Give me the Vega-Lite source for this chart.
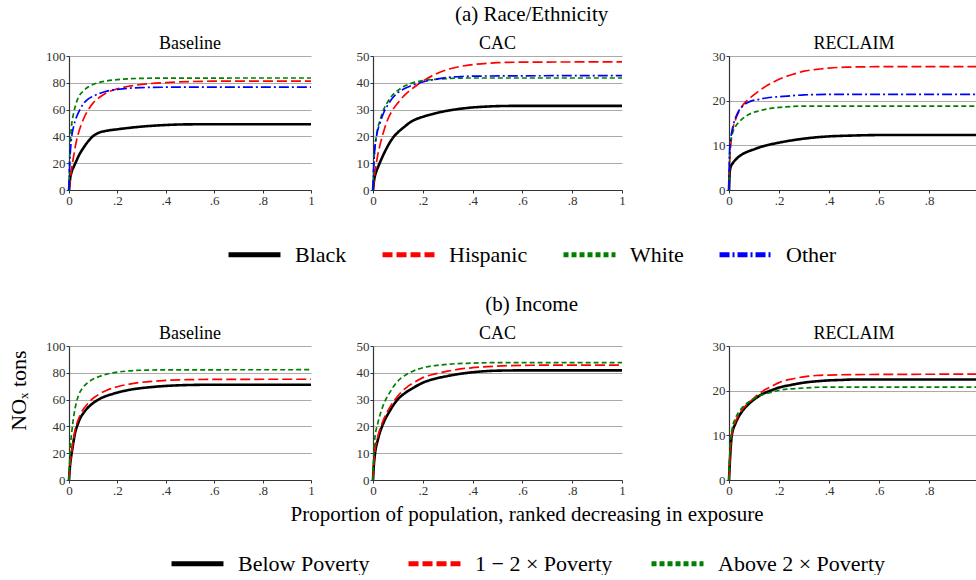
{
"$schema": "https://vega.github.io/schema/vega-lite/v6.json",
"padding": {"left": 7, "top": 4, "right": 0, "bottom": 0},
"config": {
  "font": "Liberation Serif",
  "view": {"stroke": null},
  "axis": {"labelFont": "Liberation Serif", "labelFontSize": 13, "labelColor": "#333", "tickSize": 3, "tickColor": "#333", "domainColor": "#333", "domainWidth": 1.2, "labelPadding": 1, "gridColor": "#aaa", "gridWidth": 1, "titleFont": "Liberation Serif", "titleFontSize": 20, "titleFontWeight": "normal", "titleColor": "#000"},
  "axisX": {"grid": false, "labelAngle": 0, "labelFlush": false},
  "axisY": {"grid": true},
  "title": {"font": "Liberation Serif", "fontSize": 18, "fontWeight": "normal", "color": "#000", "offset": -3},
  "legend": {"symbolType": "stroke", "symbolSize": 2700, "symbolStrokeWidth": 5, "labelFontSize": 22, "labelFont": "Liberation Serif", "labelColor": "#000", "labelOffset": 12, "columnPadding": 25, "labelLimit": 400, "padding": 0}
},
"datasets": {
"race": [
{"s":"Baseline","g":"Black","x":0,"y":0},{"s":"Baseline","g":"Black","x":0.005,"y":9},{"s":"Baseline","g":"Black","x":0.01,"y":13},{"s":"Baseline","g":"Black","x":0.02,"y":17.5},{"s":"Baseline","g":"Black","x":0.03,"y":21.5},{"s":"Baseline","g":"Black","x":0.04,"y":25.5},{"s":"Baseline","g":"Black","x":0.06,"y":31.5},{"s":"Baseline","g":"Black","x":0.08,"y":36.5},{"s":"Baseline","g":"Black","x":0.1,"y":40.3},{"s":"Baseline","g":"Black","x":0.12,"y":42.5},{"s":"Baseline","g":"Black","x":0.15,"y":44},{"s":"Baseline","g":"Black","x":0.2,"y":45.3},{"s":"Baseline","g":"Black","x":0.3,"y":47.3},{"s":"Baseline","g":"Black","x":0.4,"y":48.5},{"s":"Baseline","g":"Black","x":0.5,"y":49},{"s":"Baseline","g":"Black","x":0.7,"y":49.1},{"s":"Baseline","g":"Black","x":1,"y":49.1},
{"s":"Baseline","g":"Hispanic","x":0,"y":0},{"s":"Baseline","g":"Hispanic","x":0.005,"y":8},{"s":"Baseline","g":"Hispanic","x":0.01,"y":15},{"s":"Baseline","g":"Hispanic","x":0.02,"y":26},{"s":"Baseline","g":"Hispanic","x":0.03,"y":36},{"s":"Baseline","g":"Hispanic","x":0.04,"y":43},{"s":"Baseline","g":"Hispanic","x":0.06,"y":53},{"s":"Baseline","g":"Hispanic","x":0.08,"y":60},{"s":"Baseline","g":"Hispanic","x":0.1,"y":65},{"s":"Baseline","g":"Hispanic","x":0.125,"y":69},{"s":"Baseline","g":"Hispanic","x":0.15,"y":72},{"s":"Baseline","g":"Hispanic","x":0.2,"y":75.5},{"s":"Baseline","g":"Hispanic","x":0.25,"y":77.5},{"s":"Baseline","g":"Hispanic","x":0.3,"y":78.8},{"s":"Baseline","g":"Hispanic","x":0.4,"y":80.2},{"s":"Baseline","g":"Hispanic","x":0.5,"y":80.9},{"s":"Baseline","g":"Hispanic","x":0.6,"y":81.2},{"s":"Baseline","g":"Hispanic","x":1,"y":81.3},
{"s":"Baseline","g":"White","x":0,"y":0},{"s":"Baseline","g":"White","x":0.003,"y":25},{"s":"Baseline","g":"White","x":0.007,"y":40},{"s":"Baseline","g":"White","x":0.01,"y":47},{"s":"Baseline","g":"White","x":0.02,"y":58},{"s":"Baseline","g":"White","x":0.03,"y":65},{"s":"Baseline","g":"White","x":0.04,"y":69.5},{"s":"Baseline","g":"White","x":0.06,"y":74},{"s":"Baseline","g":"White","x":0.08,"y":77},{"s":"Baseline","g":"White","x":0.1,"y":78.8},{"s":"Baseline","g":"White","x":0.125,"y":80.3},{"s":"Baseline","g":"White","x":0.15,"y":81.2},{"s":"Baseline","g":"White","x":0.2,"y":82.4},{"s":"Baseline","g":"White","x":0.25,"y":83},{"s":"Baseline","g":"White","x":0.3,"y":83.3},{"s":"Baseline","g":"White","x":0.4,"y":83.5},{"s":"Baseline","g":"White","x":1,"y":83.6},
{"s":"Baseline","g":"Other","x":0,"y":0},{"s":"Baseline","g":"Other","x":0.003,"y":20},{"s":"Baseline","g":"Other","x":0.007,"y":32},{"s":"Baseline","g":"Other","x":0.01,"y":38},{"s":"Baseline","g":"Other","x":0.02,"y":48},{"s":"Baseline","g":"Other","x":0.03,"y":54},{"s":"Baseline","g":"Other","x":0.045,"y":60},{"s":"Baseline","g":"Other","x":0.06,"y":64.5},{"s":"Baseline","g":"Other","x":0.08,"y":68},{"s":"Baseline","g":"Other","x":0.1,"y":70},{"s":"Baseline","g":"Other","x":0.125,"y":72},{"s":"Baseline","g":"Other","x":0.15,"y":73.5},{"s":"Baseline","g":"Other","x":0.2,"y":75},{"s":"Baseline","g":"Other","x":0.25,"y":76},{"s":"Baseline","g":"Other","x":0.3,"y":76.4},{"s":"Baseline","g":"Other","x":0.4,"y":76.7},{"s":"Baseline","g":"Other","x":1,"y":76.8},
{"s":"CAC","g":"Black","x":0,"y":0},{"s":"CAC","g":"Black","x":0.005,"y":4},{"s":"CAC","g":"Black","x":0.01,"y":6},{"s":"CAC","g":"Black","x":0.02,"y":8.5},{"s":"CAC","g":"Black","x":0.04,"y":12.8},{"s":"CAC","g":"Black","x":0.06,"y":16.5},{"s":"CAC","g":"Black","x":0.08,"y":19.5},{"s":"CAC","g":"Black","x":0.1,"y":21.5},{"s":"CAC","g":"Black","x":0.125,"y":23.5},{"s":"CAC","g":"Black","x":0.15,"y":25.3},{"s":"CAC","g":"Black","x":0.175,"y":26.5},{"s":"CAC","g":"Black","x":0.2,"y":27.3},{"s":"CAC","g":"Black","x":0.25,"y":28.6},{"s":"CAC","g":"Black","x":0.3,"y":29.6},{"s":"CAC","g":"Black","x":0.35,"y":30.3},{"s":"CAC","g":"Black","x":0.4,"y":30.8},{"s":"CAC","g":"Black","x":0.45,"y":31.1},{"s":"CAC","g":"Black","x":0.5,"y":31.3},{"s":"CAC","g":"Black","x":0.6,"y":31.4},{"s":"CAC","g":"Black","x":1,"y":31.4},
{"s":"CAC","g":"Hispanic","x":0,"y":0},{"s":"CAC","g":"Hispanic","x":0.005,"y":4.5},{"s":"CAC","g":"Hispanic","x":0.01,"y":8},{"s":"CAC","g":"Hispanic","x":0.02,"y":13.5},{"s":"CAC","g":"Hispanic","x":0.03,"y":17.5},{"s":"CAC","g":"Hispanic","x":0.045,"y":22.5},{"s":"CAC","g":"Hispanic","x":0.06,"y":26.5},{"s":"CAC","g":"Hispanic","x":0.08,"y":30},{"s":"CAC","g":"Hispanic","x":0.1,"y":32.5},{"s":"CAC","g":"Hispanic","x":0.125,"y":35.2},{"s":"CAC","g":"Hispanic","x":0.15,"y":37.3},{"s":"CAC","g":"Hispanic","x":0.175,"y":39},{"s":"CAC","g":"Hispanic","x":0.2,"y":40.6},{"s":"CAC","g":"Hispanic","x":0.25,"y":43.2},{"s":"CAC","g":"Hispanic","x":0.3,"y":45},{"s":"CAC","g":"Hispanic","x":0.35,"y":46.1},{"s":"CAC","g":"Hispanic","x":0.4,"y":46.8},{"s":"CAC","g":"Hispanic","x":0.5,"y":47.5},{"s":"CAC","g":"Hispanic","x":0.6,"y":47.7},{"s":"CAC","g":"Hispanic","x":1,"y":47.8},
{"s":"CAC","g":"White","x":0,"y":0},{"s":"CAC","g":"White","x":0.003,"y":9},{"s":"CAC","g":"White","x":0.007,"y":15},{"s":"CAC","g":"White","x":0.015,"y":21},{"s":"CAC","g":"White","x":0.03,"y":26.5},{"s":"CAC","g":"White","x":0.045,"y":30.5},{"s":"CAC","g":"White","x":0.06,"y":33},{"s":"CAC","g":"White","x":0.08,"y":35.6},{"s":"CAC","g":"White","x":0.1,"y":37.2},{"s":"CAC","g":"White","x":0.125,"y":38.7},{"s":"CAC","g":"White","x":0.15,"y":39.7},{"s":"CAC","g":"White","x":0.2,"y":40.8},{"s":"CAC","g":"White","x":0.25,"y":41.3},{"s":"CAC","g":"White","x":0.3,"y":41.6},{"s":"CAC","g":"White","x":0.4,"y":41.8},{"s":"CAC","g":"White","x":1,"y":41.8},
{"s":"CAC","g":"Other","x":0,"y":0},{"s":"CAC","g":"Other","x":0.003,"y":9},{"s":"CAC","g":"Other","x":0.007,"y":15},{"s":"CAC","g":"Other","x":0.015,"y":20.5},{"s":"CAC","g":"Other","x":0.03,"y":25.5},{"s":"CAC","g":"Other","x":0.045,"y":29.3},{"s":"CAC","g":"Other","x":0.06,"y":31.8},{"s":"CAC","g":"Other","x":0.08,"y":34.5},{"s":"CAC","g":"Other","x":0.1,"y":36.3},{"s":"CAC","g":"Other","x":0.125,"y":37.8},{"s":"CAC","g":"Other","x":0.15,"y":38.8},{"s":"CAC","g":"Other","x":0.2,"y":40.3},{"s":"CAC","g":"Other","x":0.25,"y":41.3},{"s":"CAC","g":"Other","x":0.3,"y":42},{"s":"CAC","g":"Other","x":0.35,"y":42.3},{"s":"CAC","g":"Other","x":0.4,"y":42.5},{"s":"CAC","g":"Other","x":1,"y":42.7},
{"s":"RECLAIM","g":"Black","x":0,"y":0},{"s":"RECLAIM","g":"Black","x":0.003,"y":4},{"s":"RECLAIM","g":"Black","x":0.007,"y":5.2},{"s":"RECLAIM","g":"Black","x":0.015,"y":6},{"s":"RECLAIM","g":"Black","x":0.03,"y":7},{"s":"RECLAIM","g":"Black","x":0.05,"y":7.9},{"s":"RECLAIM","g":"Black","x":0.075,"y":8.6},{"s":"RECLAIM","g":"Black","x":0.1,"y":9.1},{"s":"RECLAIM","g":"Black","x":0.125,"y":9.6},{"s":"RECLAIM","g":"Black","x":0.15,"y":10},{"s":"RECLAIM","g":"Black","x":0.2,"y":10.6},{"s":"RECLAIM","g":"Black","x":0.25,"y":11.1},{"s":"RECLAIM","g":"Black","x":0.3,"y":11.5},{"s":"RECLAIM","g":"Black","x":0.35,"y":11.8},{"s":"RECLAIM","g":"Black","x":0.4,"y":12},{"s":"RECLAIM","g":"Black","x":0.5,"y":12.2},{"s":"RECLAIM","g":"Black","x":0.6,"y":12.3},{"s":"RECLAIM","g":"Black","x":1,"y":12.3},
{"s":"RECLAIM","g":"Hispanic","x":0,"y":0},{"s":"RECLAIM","g":"Hispanic","x":0.003,"y":6.5},{"s":"RECLAIM","g":"Hispanic","x":0.007,"y":10},{"s":"RECLAIM","g":"Hispanic","x":0.013,"y":12.9},{"s":"RECLAIM","g":"Hispanic","x":0.027,"y":15.9},{"s":"RECLAIM","g":"Hispanic","x":0.04,"y":17.6},{"s":"RECLAIM","g":"Hispanic","x":0.053,"y":18.8},{"s":"RECLAIM","g":"Hispanic","x":0.075,"y":20.2},{"s":"RECLAIM","g":"Hispanic","x":0.093,"y":21},{"s":"RECLAIM","g":"Hispanic","x":0.12,"y":22.2},{"s":"RECLAIM","g":"Hispanic","x":0.147,"y":23.2},{"s":"RECLAIM","g":"Hispanic","x":0.175,"y":24.1},{"s":"RECLAIM","g":"Hispanic","x":0.2,"y":24.8},{"s":"RECLAIM","g":"Hispanic","x":0.25,"y":25.8},{"s":"RECLAIM","g":"Hispanic","x":0.3,"y":26.6},{"s":"RECLAIM","g":"Hispanic","x":0.35,"y":27},{"s":"RECLAIM","g":"Hispanic","x":0.4,"y":27.3},{"s":"RECLAIM","g":"Hispanic","x":0.47,"y":27.5},{"s":"RECLAIM","g":"Hispanic","x":0.6,"y":27.6},{"s":"RECLAIM","g":"Hispanic","x":1,"y":27.6},
{"s":"RECLAIM","g":"White","x":0,"y":0},{"s":"RECLAIM","g":"White","x":0.003,"y":9.2},{"s":"RECLAIM","g":"White","x":0.007,"y":11},{"s":"RECLAIM","g":"White","x":0.013,"y":12.5},{"s":"RECLAIM","g":"White","x":0.027,"y":14.3},{"s":"RECLAIM","g":"White","x":0.04,"y":15.2},{"s":"RECLAIM","g":"White","x":0.067,"y":16.5},{"s":"RECLAIM","g":"White","x":0.09,"y":17.2},{"s":"RECLAIM","g":"White","x":0.12,"y":17.7},{"s":"RECLAIM","g":"White","x":0.15,"y":18.1},{"s":"RECLAIM","g":"White","x":0.2,"y":18.5},{"s":"RECLAIM","g":"White","x":0.25,"y":18.7},{"s":"RECLAIM","g":"White","x":0.32,"y":18.8},{"s":"RECLAIM","g":"White","x":1,"y":18.8},
{"s":"RECLAIM","g":"Other","x":0,"y":0},{"s":"RECLAIM","g":"Other","x":0.003,"y":9.2},{"s":"RECLAIM","g":"Other","x":0.007,"y":11.5},{"s":"RECLAIM","g":"Other","x":0.013,"y":13.5},{"s":"RECLAIM","g":"Other","x":0.027,"y":16.3},{"s":"RECLAIM","g":"Other","x":0.04,"y":17.8},{"s":"RECLAIM","g":"Other","x":0.053,"y":18.7},{"s":"RECLAIM","g":"Other","x":0.075,"y":19.6},{"s":"RECLAIM","g":"Other","x":0.093,"y":20},{"s":"RECLAIM","g":"Other","x":0.12,"y":20.3},{"s":"RECLAIM","g":"Other","x":0.15,"y":20.6},{"s":"RECLAIM","g":"Other","x":0.2,"y":20.9},{"s":"RECLAIM","g":"Other","x":0.25,"y":21.1},{"s":"RECLAIM","g":"Other","x":0.3,"y":21.3},{"s":"RECLAIM","g":"Other","x":0.4,"y":21.4},{"s":"RECLAIM","g":"Other","x":1,"y":21.4}
],
"inc": [
{"s":"Baseline","g":"Below Poverty","x":0,"y":0},{"s":"Baseline","g":"Below Poverty","x":0.004,"y":10},{"s":"Baseline","g":"Below Poverty","x":0.011,"y":20},{"s":"Baseline","g":"Below Poverty","x":0.018,"y":28},{"s":"Baseline","g":"Below Poverty","x":0.025,"y":35},{"s":"Baseline","g":"Below Poverty","x":0.035,"y":41},{"s":"Baseline","g":"Below Poverty","x":0.046,"y":46},{"s":"Baseline","g":"Below Poverty","x":0.06,"y":50},{"s":"Baseline","g":"Below Poverty","x":0.073,"y":53},{"s":"Baseline","g":"Below Poverty","x":0.09,"y":56},{"s":"Baseline","g":"Below Poverty","x":0.114,"y":59.2},{"s":"Baseline","g":"Below Poverty","x":0.135,"y":61.3},{"s":"Baseline","g":"Below Poverty","x":0.156,"y":62.8},{"s":"Baseline","g":"Below Poverty","x":0.2,"y":65.2},{"s":"Baseline","g":"Below Poverty","x":0.25,"y":67.3},{"s":"Baseline","g":"Below Poverty","x":0.3,"y":68.6},{"s":"Baseline","g":"Below Poverty","x":0.35,"y":69.5},{"s":"Baseline","g":"Below Poverty","x":0.4,"y":70.2},{"s":"Baseline","g":"Below Poverty","x":0.5,"y":70.9},{"s":"Baseline","g":"Below Poverty","x":0.6,"y":71.1},{"s":"Baseline","g":"Below Poverty","x":1,"y":71.1},
{"s":"Baseline","g":"1 − 2 × Poverty","x":0,"y":0},{"s":"Baseline","g":"1 − 2 × Poverty","x":0.004,"y":11},{"s":"Baseline","g":"1 − 2 × Poverty","x":0.011,"y":21},{"s":"Baseline","g":"1 − 2 × Poverty","x":0.018,"y":29.5},{"s":"Baseline","g":"1 − 2 × Poverty","x":0.025,"y":37},{"s":"Baseline","g":"1 − 2 × Poverty","x":0.035,"y":43.5},{"s":"Baseline","g":"1 − 2 × Poverty","x":0.046,"y":48.5},{"s":"Baseline","g":"1 − 2 × Poverty","x":0.06,"y":53},{"s":"Baseline","g":"1 − 2 × Poverty","x":0.073,"y":56},{"s":"Baseline","g":"1 − 2 × Poverty","x":0.09,"y":59.5},{"s":"Baseline","g":"1 − 2 × Poverty","x":0.114,"y":62.8},{"s":"Baseline","g":"1 − 2 × Poverty","x":0.135,"y":65.2},{"s":"Baseline","g":"1 − 2 × Poverty","x":0.156,"y":67},{"s":"Baseline","g":"1 − 2 × Poverty","x":0.2,"y":69.6},{"s":"Baseline","g":"1 − 2 × Poverty","x":0.25,"y":71.6},{"s":"Baseline","g":"1 − 2 × Poverty","x":0.3,"y":72.9},{"s":"Baseline","g":"1 − 2 × Poverty","x":0.35,"y":73.7},{"s":"Baseline","g":"1 − 2 × Poverty","x":0.4,"y":74.3},{"s":"Baseline","g":"1 − 2 × Poverty","x":0.5,"y":74.9},{"s":"Baseline","g":"1 − 2 × Poverty","x":0.6,"y":75.1},{"s":"Baseline","g":"1 − 2 × Poverty","x":1,"y":75.2},
{"s":"Baseline","g":"Above 2 × Poverty","x":0,"y":0},{"s":"Baseline","g":"Above 2 × Poverty","x":0.004,"y":20},{"s":"Baseline","g":"Above 2 × Poverty","x":0.011,"y":35},{"s":"Baseline","g":"Above 2 × Poverty","x":0.02,"y":48},{"s":"Baseline","g":"Above 2 × Poverty","x":0.03,"y":57.5},{"s":"Baseline","g":"Above 2 × Poverty","x":0.04,"y":63.5},{"s":"Baseline","g":"Above 2 × Poverty","x":0.06,"y":69.5},{"s":"Baseline","g":"Above 2 × Poverty","x":0.08,"y":73},{"s":"Baseline","g":"Above 2 × Poverty","x":0.1,"y":75.3},{"s":"Baseline","g":"Above 2 × Poverty","x":0.125,"y":77.2},{"s":"Baseline","g":"Above 2 × Poverty","x":0.156,"y":79},{"s":"Baseline","g":"Above 2 × Poverty","x":0.2,"y":80.5},{"s":"Baseline","g":"Above 2 × Poverty","x":0.24,"y":81.3},{"s":"Baseline","g":"Above 2 × Poverty","x":0.3,"y":81.9},{"s":"Baseline","g":"Above 2 × Poverty","x":0.4,"y":82.2},{"s":"Baseline","g":"Above 2 × Poverty","x":1,"y":82.3},
{"s":"CAC","g":"Below Poverty","x":0,"y":0},{"s":"CAC","g":"Below Poverty","x":0.003,"y":5},{"s":"CAC","g":"Below Poverty","x":0.007,"y":9},{"s":"CAC","g":"Below Poverty","x":0.02,"y":15.2},{"s":"CAC","g":"Below Poverty","x":0.04,"y":20.8},{"s":"CAC","g":"Below Poverty","x":0.067,"y":25.7},{"s":"CAC","g":"Below Poverty","x":0.094,"y":29.5},{"s":"CAC","g":"Below Poverty","x":0.134,"y":32.8},{"s":"CAC","g":"Below Poverty","x":0.16,"y":34.3},{"s":"CAC","g":"Below Poverty","x":0.2,"y":36.3},{"s":"CAC","g":"Below Poverty","x":0.25,"y":37.8},{"s":"CAC","g":"Below Poverty","x":0.3,"y":38.8},{"s":"CAC","g":"Below Poverty","x":0.335,"y":39.4},{"s":"CAC","g":"Below Poverty","x":0.4,"y":40.2},{"s":"CAC","g":"Below Poverty","x":0.45,"y":40.6},{"s":"CAC","g":"Below Poverty","x":0.5,"y":40.8},{"s":"CAC","g":"Below Poverty","x":0.6,"y":40.9},{"s":"CAC","g":"Below Poverty","x":1,"y":40.9},
{"s":"CAC","g":"1 − 2 × Poverty","x":0,"y":0},{"s":"CAC","g":"1 − 2 × Poverty","x":0.003,"y":6},{"s":"CAC","g":"1 − 2 × Poverty","x":0.007,"y":10.2},{"s":"CAC","g":"1 − 2 × Poverty","x":0.02,"y":16.4},{"s":"CAC","g":"1 − 2 × Poverty","x":0.04,"y":22},{"s":"CAC","g":"1 − 2 × Poverty","x":0.067,"y":27},{"s":"CAC","g":"1 − 2 × Poverty","x":0.094,"y":30.7},{"s":"CAC","g":"1 − 2 × Poverty","x":0.134,"y":34.5},{"s":"CAC","g":"1 − 2 × Poverty","x":0.16,"y":36.1},{"s":"CAC","g":"1 − 2 × Poverty","x":0.2,"y":38.2},{"s":"CAC","g":"1 − 2 × Poverty","x":0.25,"y":39.6},{"s":"CAC","g":"1 − 2 × Poverty","x":0.3,"y":40.6},{"s":"CAC","g":"1 − 2 × Poverty","x":0.335,"y":41.2},{"s":"CAC","g":"1 − 2 × Poverty","x":0.4,"y":41.9},{"s":"CAC","g":"1 − 2 × Poverty","x":0.5,"y":42.5},{"s":"CAC","g":"1 − 2 × Poverty","x":0.6,"y":42.8},{"s":"CAC","g":"1 − 2 × Poverty","x":1,"y":42.9},
{"s":"CAC","g":"Above 2 × Poverty","x":0,"y":0},{"s":"CAC","g":"Above 2 × Poverty","x":0.003,"y":9},{"s":"CAC","g":"Above 2 × Poverty","x":0.007,"y":15.2},{"s":"CAC","g":"Above 2 × Poverty","x":0.02,"y":21.4},{"s":"CAC","g":"Above 2 × Poverty","x":0.04,"y":27.6},{"s":"CAC","g":"Above 2 × Poverty","x":0.067,"y":32.6},{"s":"CAC","g":"Above 2 × Poverty","x":0.094,"y":36.3},{"s":"CAC","g":"Above 2 × Poverty","x":0.134,"y":39.4},{"s":"CAC","g":"Above 2 × Poverty","x":0.16,"y":40.6},{"s":"CAC","g":"Above 2 × Poverty","x":0.2,"y":41.9},{"s":"CAC","g":"Above 2 × Poverty","x":0.25,"y":42.7},{"s":"CAC","g":"Above 2 × Poverty","x":0.3,"y":43.2},{"s":"CAC","g":"Above 2 × Poverty","x":0.4,"y":43.6},{"s":"CAC","g":"Above 2 × Poverty","x":0.5,"y":43.8},{"s":"CAC","g":"Above 2 × Poverty","x":1,"y":43.8},
{"s":"RECLAIM","g":"Below Poverty","x":0,"y":0},{"s":"RECLAIM","g":"Below Poverty","x":0.004,"y":4.6},{"s":"RECLAIM","g":"Below Poverty","x":0.011,"y":9.9},{"s":"RECLAIM","g":"Below Poverty","x":0.027,"y":12.8},{"s":"RECLAIM","g":"Below Poverty","x":0.04,"y":14.3},{"s":"RECLAIM","g":"Below Poverty","x":0.053,"y":15.4},{"s":"RECLAIM","g":"Below Poverty","x":0.075,"y":16.8},{"s":"RECLAIM","g":"Below Poverty","x":0.093,"y":17.7},{"s":"RECLAIM","g":"Below Poverty","x":0.12,"y":18.8},{"s":"RECLAIM","g":"Below Poverty","x":0.147,"y":19.6},{"s":"RECLAIM","g":"Below Poverty","x":0.175,"y":20.2},{"s":"RECLAIM","g":"Below Poverty","x":0.2,"y":20.7},{"s":"RECLAIM","g":"Below Poverty","x":0.25,"y":21.3},{"s":"RECLAIM","g":"Below Poverty","x":0.3,"y":21.8},{"s":"RECLAIM","g":"Below Poverty","x":0.35,"y":22.1},{"s":"RECLAIM","g":"Below Poverty","x":0.4,"y":22.3},{"s":"RECLAIM","g":"Below Poverty","x":0.45,"y":22.4},{"s":"RECLAIM","g":"Below Poverty","x":0.5,"y":22.5},{"s":"RECLAIM","g":"Below Poverty","x":1,"y":22.5},
{"s":"RECLAIM","g":"1 − 2 × Poverty","x":0,"y":0},{"s":"RECLAIM","g":"1 − 2 × Poverty","x":0.004,"y":5.4},{"s":"RECLAIM","g":"1 − 2 × Poverty","x":0.011,"y":10.2},{"s":"RECLAIM","g":"1 − 2 × Poverty","x":0.027,"y":13.2},{"s":"RECLAIM","g":"1 − 2 × Poverty","x":0.04,"y":14.7},{"s":"RECLAIM","g":"1 − 2 × Poverty","x":0.053,"y":15.8},{"s":"RECLAIM","g":"1 − 2 × Poverty","x":0.075,"y":17.1},{"s":"RECLAIM","g":"1 − 2 × Poverty","x":0.093,"y":18},{"s":"RECLAIM","g":"1 − 2 × Poverty","x":0.12,"y":19.3},{"s":"RECLAIM","g":"1 − 2 × Poverty","x":0.147,"y":20.3},{"s":"RECLAIM","g":"1 − 2 × Poverty","x":0.175,"y":21.1},{"s":"RECLAIM","g":"1 − 2 × Poverty","x":0.2,"y":21.8},{"s":"RECLAIM","g":"1 − 2 × Poverty","x":0.25,"y":22.6},{"s":"RECLAIM","g":"1 − 2 × Poverty","x":0.3,"y":23.1},{"s":"RECLAIM","g":"1 − 2 × Poverty","x":0.35,"y":23.4},{"s":"RECLAIM","g":"1 − 2 × Poverty","x":0.4,"y":23.5},{"s":"RECLAIM","g":"1 − 2 × Poverty","x":0.5,"y":23.6},{"s":"RECLAIM","g":"1 − 2 × Poverty","x":1,"y":23.7},
{"s":"RECLAIM","g":"Above 2 × Poverty","x":0,"y":0},{"s":"RECLAIM","g":"Above 2 × Poverty","x":0.004,"y":6.9},{"s":"RECLAIM","g":"Above 2 × Poverty","x":0.011,"y":11},{"s":"RECLAIM","g":"Above 2 × Poverty","x":0.027,"y":14},{"s":"RECLAIM","g":"Above 2 × Poverty","x":0.04,"y":15.3},{"s":"RECLAIM","g":"Above 2 × Poverty","x":0.053,"y":16.2},{"s":"RECLAIM","g":"Above 2 × Poverty","x":0.075,"y":17.3},{"s":"RECLAIM","g":"Above 2 × Poverty","x":0.093,"y":18},{"s":"RECLAIM","g":"Above 2 × Poverty","x":0.12,"y":18.8},{"s":"RECLAIM","g":"Above 2 × Poverty","x":0.147,"y":19.3},{"s":"RECLAIM","g":"Above 2 × Poverty","x":0.175,"y":19.7},{"s":"RECLAIM","g":"Above 2 × Poverty","x":0.2,"y":20.1},{"s":"RECLAIM","g":"Above 2 × Poverty","x":0.25,"y":20.4},{"s":"RECLAIM","g":"Above 2 × Poverty","x":0.3,"y":20.6},{"s":"RECLAIM","g":"Above 2 × Poverty","x":0.4,"y":20.8},{"s":"RECLAIM","g":"Above 2 × Poverty","x":1,"y":20.8}
]
},
"spacing": 28,
"resolve": {"scale": {"color": "independent", "strokeDash": "independent"}},
"vconcat": [
{
 "title": {"text": "(a) Race/Ethnicity", "fontSize": 21, "anchor": "middle", "frame": "bounds", "dx": 36, "offset": 10},
 "spacing": 84,
 "hconcat": [
  {"spacing": 39, "hconcat": [
   {"width": 242, "height": 134, "title": "Baseline", "data": {"name": "race"}, "transform": [{"filter": "datum.s === 'Baseline'"}],
    "encoding": {
     "x": {"field": "x", "type": "quantitative", "scale": {"domain": [0, 1], "nice": false}, "axis": {"values": [0, 0.2, 0.4, 0.6, 0.8, 1], "labelExpr": "replace(format(datum.value, '~g'), '0.', '.')", "title": null}},
     "y": {"field": "y", "type": "quantitative", "scale": {"domain": [0, 100], "nice": false}, "axis": {"values": [0, 20, 40, 60, 80, 100], "title": null, "minExtent": 62}},
     "color": {"field": "g", "type": "nominal", "scale": {"domain": ["Black", "Hispanic", "White", "Other"], "range": ["#000000", "#ff0000", "#008000", "#0000ff"]}, "legend": {"title": null, "orient": "none", "direction": "horizontal", "legendX": 157, "legendY": 170, "encode": {"symbols": {"update": {"strokeWidth": {"value": 5}, "strokeDash": {"signal": "datum.value === 'Hispanic' ? [22, 8] : datum.value === 'White' ? [12, 8] : datum.value === 'Other' ? [32, 3, 2, 3] : [1, 0]"}}}}}},
     "strokeDash": {"field": "g", "type": "nominal", "scale": {"domain": ["Black", "Hispanic", "White", "Other"], "range": [[1, 0], [10, 4], [5, 3], [10, 3, 2, 3]]}, "legend": {"title": null, "orient": "none", "direction": "horizontal", "legendX": 157, "legendY": 170, "encode": {"symbols": {"update": {"strokeWidth": {"value": 5}, "strokeDash": {"signal": "datum.value === 'Hispanic' ? [22, 8] : datum.value === 'White' ? [12, 8] : datum.value === 'Other' ? [32, 3, 2, 3] : [1, 0]"}}}}}}
    },
    "layer": [
     {"transform": [{"filter": "datum.g === 'Black'"}], "mark": {"type": "line", "interpolate": "monotone", "strokeWidth": 2.6}},
     {"transform": [{"filter": "datum.g !== 'Black'"}], "mark": {"type": "line", "interpolate": "monotone", "strokeWidth": 1.7}}
    ]},
   {"width": 249, "height": 134, "title": "CAC", "data": {"name": "race"}, "transform": [{"filter": "datum.s === 'CAC'"}],
    "encoding": {
     "x": {"field": "x", "type": "quantitative", "scale": {"domain": [0, 1], "nice": false}, "axis": {"values": [0, 0.2, 0.4, 0.6, 0.8, 1], "labelExpr": "replace(format(datum.value, '~g'), '0.', '.')", "title": null}},
     "y": {"field": "y", "type": "quantitative", "scale": {"domain": [0, 50], "nice": false}, "axis": {"values": [0, 10, 20, 30, 40, 50], "title": null, "minExtent": 17}},
     "color": {"field": "g", "type": "nominal", "scale": {"domain": ["Black", "Hispanic", "White", "Other"], "range": ["#000000", "#ff0000", "#008000", "#0000ff"]}, "legend": {"title": null, "orient": "none", "direction": "horizontal", "legendX": 157, "legendY": 170, "encode": {"symbols": {"update": {"strokeWidth": {"value": 5}, "strokeDash": {"signal": "datum.value === 'Hispanic' ? [22, 8] : datum.value === 'White' ? [12, 8] : datum.value === 'Other' ? [32, 3, 2, 3] : [1, 0]"}}}}}},
     "strokeDash": {"field": "g", "type": "nominal", "scale": {"domain": ["Black", "Hispanic", "White", "Other"], "range": [[1, 0], [10, 4], [5, 3], [10, 3, 2, 3]]}, "legend": {"title": null, "orient": "none", "direction": "horizontal", "legendX": 157, "legendY": 170, "encode": {"symbols": {"update": {"strokeWidth": {"value": 5}, "strokeDash": {"signal": "datum.value === 'Hispanic' ? [22, 8] : datum.value === 'White' ? [12, 8] : datum.value === 'Other' ? [32, 3, 2, 3] : [1, 0]"}}}}}}
    },
    "layer": [
     {"transform": [{"filter": "datum.g === 'Black'"}], "mark": {"type": "line", "interpolate": "monotone", "strokeWidth": 2.6}},
     {"transform": [{"filter": "datum.g !== 'Black'"}], "mark": {"type": "line", "interpolate": "monotone", "strokeWidth": 1.7}}
    ]}
  ]},
  {"width": 250, "height": 134, "title": "RECLAIM", "data": {"name": "race"}, "transform": [{"filter": "datum.s === 'RECLAIM'"}],
   "encoding": {
    "x": {"field": "x", "type": "quantitative", "scale": {"domain": [0, 1], "nice": false}, "axis": {"values": [0, 0.2, 0.4, 0.6, 0.8, 1], "labelExpr": "replace(format(datum.value, '~g'), '0.', '.')", "title": null}},
    "y": {"field": "y", "type": "quantitative", "scale": {"domain": [0, 30], "nice": false}, "axis": {"values": [0, 10, 20, 30], "title": null, "minExtent": 17}},
    "color": {"field": "g", "type": "nominal", "scale": {"domain": ["Black", "Hispanic", "White", "Other"], "range": ["#000000", "#ff0000", "#008000", "#0000ff"]}, "legend": {"title": null, "orient": "none", "direction": "horizontal", "legendX": 157, "legendY": 170, "encode": {"symbols": {"update": {"strokeWidth": {"value": 5}, "strokeDash": {"signal": "datum.value === 'Hispanic' ? [22, 8] : datum.value === 'White' ? [12, 8] : datum.value === 'Other' ? [32, 3, 2, 3] : [1, 0]"}}}}}},
    "strokeDash": {"field": "g", "type": "nominal", "scale": {"domain": ["Black", "Hispanic", "White", "Other"], "range": [[1, 0], [10, 4], [5, 3], [10, 3, 2, 3]]}, "legend": {"title": null, "orient": "none", "direction": "horizontal", "legendX": 157, "legendY": 170, "encode": {"symbols": {"update": {"strokeWidth": {"value": 5}, "strokeDash": {"signal": "datum.value === 'Hispanic' ? [22, 8] : datum.value === 'White' ? [12, 8] : datum.value === 'Other' ? [32, 3, 2, 3] : [1, 0]"}}}}}}
   },
   "layer": [
    {"transform": [{"filter": "datum.g === 'Black'"}], "mark": {"type": "line", "interpolate": "monotone", "strokeWidth": 2.6}},
    {"transform": [{"filter": "datum.g !== 'Black'"}], "mark": {"type": "line", "interpolate": "monotone", "strokeWidth": 1.7}}
   ]}
 ]
},
{
 "title": {"text": "(b) Income", "fontSize": 21, "anchor": "middle", "frame": "bounds", "dx": 36, "offset": 10},
 "spacing": 84,
 "hconcat": [
  {"spacing": 39, "hconcat": [
   {"width": 242, "height": 134, "title": "Baseline", "data": {"name": "inc"}, "transform": [{"filter": "datum.s === 'Baseline'"}],
    "encoding": {
     "x": {"field": "x", "type": "quantitative", "scale": {"domain": [0, 1], "nice": false}, "axis": {"values": [0, 0.2, 0.4, 0.6, 0.8, 1], "labelExpr": "replace(format(datum.value, '~g'), '0.', '.')", "title": null}},
     "y": {"field": "y", "type": "quantitative", "scale": {"domain": [0, 100], "nice": false}, "axis": {"values": [0, 20, 40, 60, 80, 100], "title": "NOₓ tons", "titleFontSize": 22, "titlePadding": 15, "minExtent": 24, "titleY": 44}},
     "color": {"field": "g", "type": "nominal", "scale": {"domain": ["Below Poverty", "1 − 2 × Poverty", "Above 2 × Poverty"], "range": ["#000000", "#ff0000", "#008000"]}, "legend": {"title": "Proportion of population, ranked decreasing in exposure", "titleOrient": "top", "titleAnchor": "middle", "titleFontSize": 21, "titleFont": "Liberation Serif", "titleFontWeight": "normal", "titleColor": "#000", "titleLimit": 800, "titlePadding": 10, "columnPadding": 28, "orient": "none", "direction": "horizontal", "legendX": 100, "legendY": 158, "encode": {"symbols": {"update": {"strokeWidth": {"value": 5}, "strokeDash": {"signal": "datum.value === '1 − 2 × Poverty' ? [22, 8] : datum.value === 'Above 2 × Poverty' ? [12, 8] : [1, 0]"}}}}}},
     "strokeDash": {"field": "g", "type": "nominal", "scale": {"domain": ["Below Poverty", "1 − 2 × Poverty", "Above 2 × Poverty"], "range": [[1, 0], [10, 4], [5, 3]]}, "legend": {"title": "Proportion of population, ranked decreasing in exposure", "titleOrient": "top", "titleAnchor": "middle", "titleFontSize": 21, "titleFont": "Liberation Serif", "titleFontWeight": "normal", "titleColor": "#000", "titleLimit": 800, "titlePadding": 10, "columnPadding": 28, "orient": "none", "direction": "horizontal", "legendX": 100, "legendY": 158, "encode": {"symbols": {"update": {"strokeWidth": {"value": 5}, "strokeDash": {"signal": "datum.value === '1 − 2 × Poverty' ? [22, 8] : datum.value === 'Above 2 × Poverty' ? [12, 8] : [1, 0]"}}}}}}
    },
    "layer": [
     {"transform": [{"filter": "datum.g === 'Below Poverty'"}], "mark": {"type": "line", "interpolate": "monotone", "strokeWidth": 2.6}},
     {"transform": [{"filter": "datum.g !== 'Below Poverty'"}], "mark": {"type": "line", "interpolate": "monotone", "strokeWidth": 1.7}}
    ]},
   {"width": 249, "height": 134, "title": "CAC", "data": {"name": "inc"}, "transform": [{"filter": "datum.s === 'CAC'"}],
    "encoding": {
     "x": {"field": "x", "type": "quantitative", "scale": {"domain": [0, 1], "nice": false}, "axis": {"values": [0, 0.2, 0.4, 0.6, 0.8, 1], "labelExpr": "replace(format(datum.value, '~g'), '0.', '.')", "title": null}},
     "y": {"field": "y", "type": "quantitative", "scale": {"domain": [0, 50], "nice": false}, "axis": {"values": [0, 10, 20, 30, 40, 50], "title": null, "minExtent": 17}},
     "color": {"field": "g", "type": "nominal", "scale": {"domain": ["Below Poverty", "1 − 2 × Poverty", "Above 2 × Poverty"], "range": ["#000000", "#ff0000", "#008000"]}, "legend": {"title": "Proportion of population, ranked decreasing in exposure", "titleOrient": "top", "titleAnchor": "middle", "titleFontSize": 21, "titleFont": "Liberation Serif", "titleFontWeight": "normal", "titleColor": "#000", "titleLimit": 800, "titlePadding": 10, "columnPadding": 28, "orient": "none", "direction": "horizontal", "legendX": 100, "legendY": 158, "encode": {"symbols": {"update": {"strokeWidth": {"value": 5}, "strokeDash": {"signal": "datum.value === '1 − 2 × Poverty' ? [22, 8] : datum.value === 'Above 2 × Poverty' ? [12, 8] : [1, 0]"}}}}}},
     "strokeDash": {"field": "g", "type": "nominal", "scale": {"domain": ["Below Poverty", "1 − 2 × Poverty", "Above 2 × Poverty"], "range": [[1, 0], [10, 4], [5, 3]]}, "legend": {"title": "Proportion of population, ranked decreasing in exposure", "titleOrient": "top", "titleAnchor": "middle", "titleFontSize": 21, "titleFont": "Liberation Serif", "titleFontWeight": "normal", "titleColor": "#000", "titleLimit": 800, "titlePadding": 10, "columnPadding": 28, "orient": "none", "direction": "horizontal", "legendX": 100, "legendY": 158, "encode": {"symbols": {"update": {"strokeWidth": {"value": 5}, "strokeDash": {"signal": "datum.value === '1 − 2 × Poverty' ? [22, 8] : datum.value === 'Above 2 × Poverty' ? [12, 8] : [1, 0]"}}}}}}
    },
    "layer": [
     {"transform": [{"filter": "datum.g === 'Below Poverty'"}], "mark": {"type": "line", "interpolate": "monotone", "strokeWidth": 2.6}},
     {"transform": [{"filter": "datum.g !== 'Below Poverty'"}], "mark": {"type": "line", "interpolate": "monotone", "strokeWidth": 1.7}}
    ]}
  ]},
  {"width": 250, "height": 134, "title": "RECLAIM", "data": {"name": "inc"}, "transform": [{"filter": "datum.s === 'RECLAIM'"}],
   "encoding": {
    "x": {"field": "x", "type": "quantitative", "scale": {"domain": [0, 1], "nice": false}, "axis": {"values": [0, 0.2, 0.4, 0.6, 0.8, 1], "labelExpr": "replace(format(datum.value, '~g'), '0.', '.')", "title": null}},
    "y": {"field": "y", "type": "quantitative", "scale": {"domain": [0, 30], "nice": false}, "axis": {"values": [0, 10, 20, 30], "title": null, "minExtent": 17}},
    "color": {"field": "g", "type": "nominal", "scale": {"domain": ["Below Poverty", "1 − 2 × Poverty", "Above 2 × Poverty"], "range": ["#000000", "#ff0000", "#008000"]}, "legend": {"title": "Proportion of population, ranked decreasing in exposure", "titleOrient": "top", "titleAnchor": "middle", "titleFontSize": 21, "titleFont": "Liberation Serif", "titleFontWeight": "normal", "titleColor": "#000", "titleLimit": 800, "titlePadding": 10, "columnPadding": 28, "orient": "none", "direction": "horizontal", "legendX": 100, "legendY": 158, "encode": {"symbols": {"update": {"strokeWidth": {"value": 5}, "strokeDash": {"signal": "datum.value === '1 − 2 × Poverty' ? [22, 8] : datum.value === 'Above 2 × Poverty' ? [12, 8] : [1, 0]"}}}}}},
    "strokeDash": {"field": "g", "type": "nominal", "scale": {"domain": ["Below Poverty", "1 − 2 × Poverty", "Above 2 × Poverty"], "range": [[1, 0], [10, 4], [5, 3]]}, "legend": {"title": "Proportion of population, ranked decreasing in exposure", "titleOrient": "top", "titleAnchor": "middle", "titleFontSize": 21, "titleFont": "Liberation Serif", "titleFontWeight": "normal", "titleColor": "#000", "titleLimit": 800, "titlePadding": 10, "columnPadding": 28, "orient": "none", "direction": "horizontal", "legendX": 100, "legendY": 158, "encode": {"symbols": {"update": {"strokeWidth": {"value": 5}, "strokeDash": {"signal": "datum.value === '1 − 2 × Poverty' ? [22, 8] : datum.value === 'Above 2 × Poverty' ? [12, 8] : [1, 0]"}}}}}}
   },
   "layer": [
    {"transform": [{"filter": "datum.g === 'Below Poverty'"}], "mark": {"type": "line", "interpolate": "monotone", "strokeWidth": 2.6}},
    {"transform": [{"filter": "datum.g !== 'Below Poverty'"}], "mark": {"type": "line", "interpolate": "monotone", "strokeWidth": 1.7}}
   ]}
 ]
}
]
}
